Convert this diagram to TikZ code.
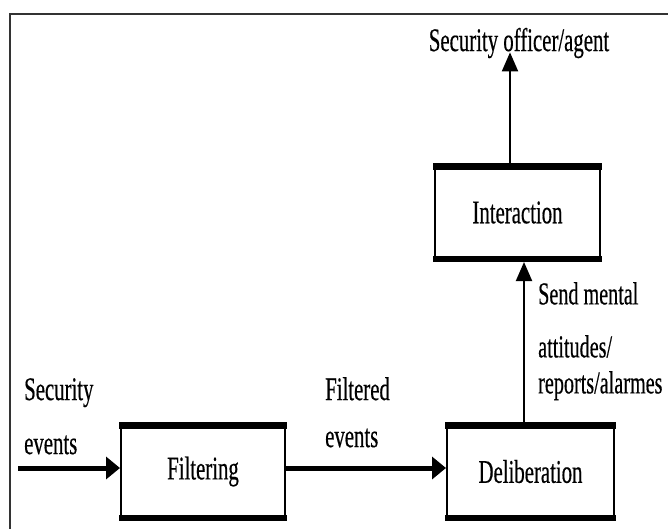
\documentclass[tikz,border=0pt]{standalone}
\usepackage{fontspec}
\setmainfont{Liberation Serif}[FakeStretch=0.63, FakeBold=0.4]
\usetikzlibrary{arrows.meta,calc}
\begin{document}
\begin{tikzpicture}[x=1pt,y=-1pt,
  lbl/.style={font=\fontsize{33}{37}\selectfont, inner sep=0pt, align=left},
  block/.style={draw, line width=2pt, minimum width=#1, minimum height=97pt, inner sep=0pt, font=\fontsize{33}{37}\selectfont},
  bigarrow/.style={line width=5pt, -{Triangle[length=14pt,width=22pt]}},
  thinarrow/.style={line width=2pt, -{Triangle[length=19pt,width=16pt]}},
  band/.style={line width=6.5pt},
  frameline/.style={draw=black!80, line width=2.5pt}]
\useasboundingbox (0,0) rectangle (668,528);
\fill[white] (0,0) rectangle (668,528);
\draw[frameline] (10,540) -- (10,14) -- (680,14);

\node[block=164pt] (filt) at (203,471.5) {Filtering};
\node[block=167pt] (delib) at (530.5,471.5) {Deliberation};
\node[block=165pt] (inter) at (517.5,212.5) {Interaction};

\foreach \n in {filt,delib,inter}{
  \draw[band] ($(\n.north west)+(-1,3.5)$) -- ($(\n.north east)+(1,3.5)$);
  \draw[band] ($(\n.south west)+(-1,-3)$) -- ($(\n.south east)+(1,-3)$);
}

\coordinate (src) at (18,468);
\draw[bigarrow] (src) -- (src -| filt.west);
\draw[bigarrow] (filt.east |- src) -- (delib.west |- src);

\node[lbl, anchor=center] (officer) at (519,43) {Security officer/agent};
\draw[thinarrow] ($(delib.north)+(-6.5,0)$) coordinate (d1) -- (d1 |- inter.south);
\draw[thinarrow, shorten >=-6pt] ($(inter.north)+(-7.5,0)$) coordinate (i1) -- (i1 |- officer.south);

\node[lbl, anchor=north west] (secev) at (24,378) {Security\\[17pt]events};
\node[lbl, anchor=north west] (filev) at (325,377) {Filtered\\[10pt]events};
\node[lbl, anchor=north west, font=\fontsize{32}{36}\selectfont] (send) at (538,282) {Send mental\\[17pt]attitudes/\\reports/alarmes};
\end{tikzpicture}
\end{document}
